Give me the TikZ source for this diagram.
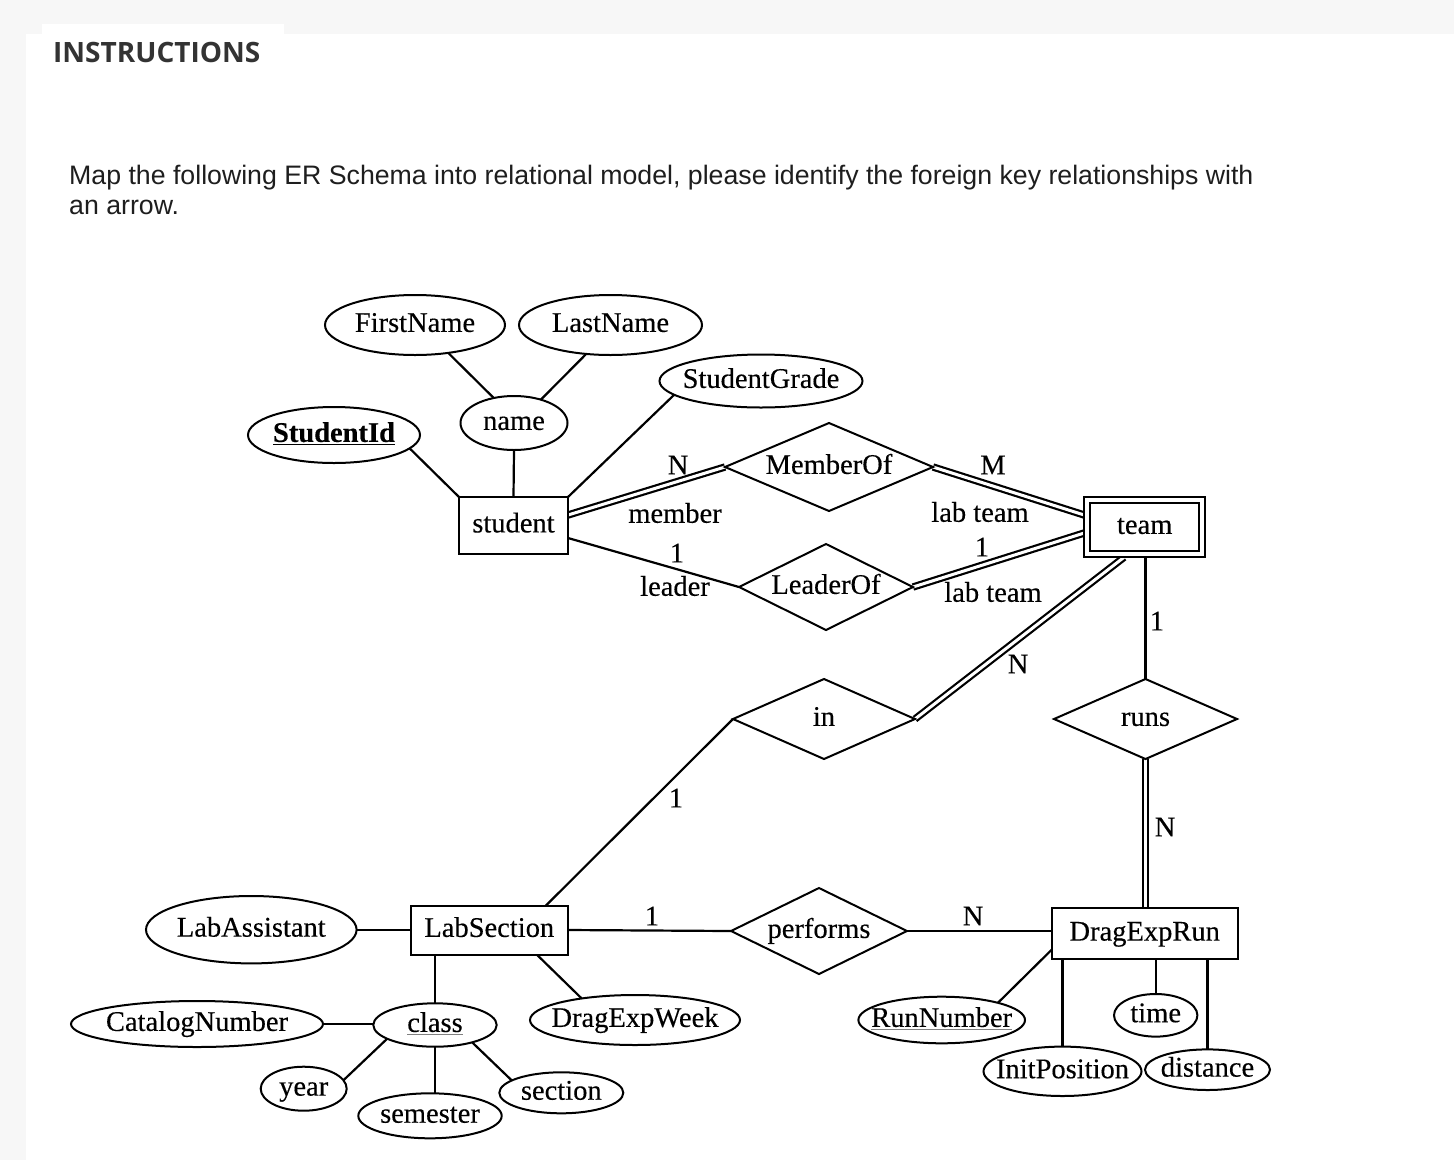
\documentclass[tikz,border=0pt]{standalone}
\usepackage{fontspec}
\setmainfont{Liberation Serif}[FakeBold=0.3]
\newfontfamily\instrfont{Open Sans}
\newfontfamily\bodyfont{Liberation Sans}
\usetikzlibrary{shapes.geometric,calc}
\definecolor{pagegray}{RGB}{247,247,247}
\definecolor{headcol}{RGB}{51,51,51}
\definecolor{bodycol}{RGB}{30,30,30}
\pgfdeclarelayer{bg}
\pgfdeclarelayer{lines}
\pgfsetlayers{bg,lines,main}
\newcommand{\myul}[2][black]{\leavevmode\setbox0=\hbox{#2}\rlap{\textcolor{#1}{\rule[-3.5pt]{\wd0}{1.8pt}}}\box0}
\begin{document}
\begin{tikzpicture}[x=1pt,y=-1pt,
  dfont/.style={font=\fontsize{28.5}{31}\selectfont},
  dbox/.style={dfont, text height=19.5pt, text depth=5.7pt},
  attr/.style={ellipse, draw, fill=white, line width=2pt, inner ysep=0pt, inner xsep=-20pt, outer sep=0pt, dbox},
  ent/.style={rectangle, draw, fill=white, line width=2pt, inner sep=0pt, outer sep=0pt, dbox},
  rel/.style={diamond, draw, fill=white, line width=2pt, inner sep=0pt, outer sep=0pt, aspect=2.2, dbox},
  conn/.style={line width=2.2pt},
  dconn/.style={line width=2.2pt, double=white, double distance=3pt},
  lbl/.style={inner sep=0pt, dfont}
]
\useasboundingbox (0,0) rectangle (1454,1160);
\begin{pgfonlayer}{bg}
  \fill[pagegray] (0,0) rectangle (1454,1160);
  \fill[white] (26,34) rectangle (1454,1160);
  \fill[white] (42,24) rectangle (284,34);
\end{pgfonlayer}

% header
\node[anchor=base west, inner sep=0pt, text=headcol, font=\instrfont\bfseries\fontsize{28}{30}\selectfont] (title) at (53,62.5) {INSTRUCTIONS};
\node[anchor=base west, inner sep=0pt, text=bodycol, font=\bodyfont\fontsize{26.7}{30}\selectfont] (line1) at (69,184.5) {Map the following ER Schema into relational model, please identify the foreign key relationships with};
\node[anchor=base west, inner sep=0pt, text=bodycol, font=\bodyfont\fontsize{26.7}{30}\selectfont] (line2) at (69,214.5) {an arrow.};

% attributes of student
\node[attr, minimum width=180pt, minimum height=60pt] (FirstName) at (415,325) {FirstName};
\node[attr, minimum width=183pt, minimum height=60pt] (LastName) at (610.5,325) {LastName};
\node[attr, minimum width=203pt, minimum height=53pt] (StudentGrade) at (761,381) {StudentGrade};
\node[attr, minimum width=107pt, minimum height=54pt] (name) at (514,423) {name};
\node[attr, minimum width=172pt, minimum height=56pt] (StudentId) at (334,435) {\myul{\bfseries StudentId}};

% entities
\node[ent, minimum width=109pt, minimum height=57pt] (student) at (513.5,525.5) {student};
\node[ent, minimum width=121pt, minimum height=60.6pt] (team) at (1144.7,527) {team};
\draw[line width=2pt] ([shift={(6pt,-6pt)}]team.north west) rectangle ([shift={(-6pt,6pt)}]team.south east);
\node[ent, minimum width=157pt, minimum height=49pt] (LabSection) at (489.3,930) {LabSection};
\node[ent, minimum width=186pt, minimum height=51pt] (DragExpRun) at (1144.7,933.7) {DragExpRun};

% relationships
\node[rel, minimum width=208pt, minimum height=88pt] (MemberOf) at (829,467) {MemberOf};
\node[rel, minimum width=174pt, minimum height=86pt] (LeaderOf) at (826,587) {LeaderOf};
\node[rel, minimum width=182pt, minimum height=80pt] (in) at (824,719) {in};
\node[rel, minimum width=183pt, minimum height=80pt] (runs) at (1145.5,719) {runs};
\node[rel, minimum width=176pt, minimum height=86pt] (performs) at (819,931) {performs};

% other attributes
\node[attr, minimum width=210.6pt, minimum height=67.4pt] (LabAssistant) at (251.3,929.7) {LabAssistant};
\node[attr, minimum width=252pt, minimum height=46pt] (CatalogNumber) at (197,1024) {CatalogNumber};
\node[attr, minimum width=123.4pt, minimum height=43.4pt] (class) at (435,1025) {\myul[gray]{class}};
\node[attr, minimum width=210pt, minimum height=50pt] (DragExpWeek) at (635,1020) {DragExpWeek};
\node[attr, minimum width=86pt, minimum height=44pt] (year) at (303.7,1088.7) {year};
\node[attr, minimum width=143.4pt, minimum height=45pt] (semester) at (430,1115.8) {semester};
\node[attr, minimum width=124pt, minimum height=41pt] (section) at (561.3,1092.8) {section};
\node[attr, minimum width=166.6pt, minimum height=46.6pt] (RunNumber) at (941.7,1020) {\myul[gray]{RunNumber}};
\node[attr, minimum width=83.4pt, minimum height=42.6pt] (time) at (1155.7,1015.3) {time};
\node[attr, minimum width=158pt, minimum height=49.4pt] (InitPosition) at (1062.5,1071.3) {InitPosition};
\node[attr, minimum width=125pt, minimum height=40.6pt] (distance) at (1207.5,1069.7) {distance};

% edge labels
\node[lbl] (lN1) at (678,465) {N};
\node[lbl] (lmember) at (675,513) {member};
\node[lbl] (lM) at (993,465) {M};
\node[lbl] (llabteamA) at (980,512) {lab team};
\node[lbl] (lone1) at (677,553) {1};
\node[lbl] (lleader) at (675,586) {leader};
\node[lbl] (lone2) at (982,547) {1};
\node[lbl] (llabteamB) at (993,592) {lab team};
\node[lbl] (lN2) at (1018,664) {N};
\node[lbl] (lone3) at (676,798) {1};
\node[lbl] (lone4) at (1157,621) {1};
\node[lbl] (lN3) at (1165,827) {N};
\node[lbl] (lone5) at (652,916) {1};
\node[lbl] (lN4) at (973,916) {N};

% connectors
\begin{pgfonlayer}{lines}
\draw[conn] (FirstName.-40.5) -- (name.129);
\draw[conn] (LastName.230) -- (name.41);
\draw[conn] (name.south) -- (student.north);
\draw[conn] (StudentId.-10) -- (student.north west);
\draw[conn] (StudentGrade.189) -- (student.north east);
\draw[dconn] ([yshift=10.5pt]student.east) -- (MemberOf.west);
\draw[dconn] (MemberOf.east) -- ([yshift=12pt]team.west);
\draw[conn] ([yshift=-12.5pt]student.east) -- (LeaderOf.west);
\draw[dconn] (LeaderOf.east) -- ([yshift=-6pt]team.west);
\draw[dconn] (in.east) -- ([xshift=-20.7pt]team.south);
\draw[conn] (in.west) -- ([xshift=56.7pt]LabSection.north);
\draw[conn] (team.south -| runs.north) -- (runs.north);
\draw[dconn] (runs.south) -- (runs.south |- DragExpRun.north);
\draw[conn] (LabSection.east) -- (performs.west);
\draw[conn] (performs.east) -- (performs.east -| DragExpRun.west);
\draw[conn] (LabAssistant.east) -- (LabAssistant.east -| LabSection.west);
\draw[conn] (LabSection.south -| class.north) -- (class.north);
\draw[conn] ([xshift=47.4pt]LabSection.south) -- (DragExpWeek.158);
\draw[conn] (CatalogNumber.east) -- (CatalogNumber.east -| class.west);
\draw[conn] (class.196.5) -- (year.12);
\draw[conn] (class.south) -- (class.south |- semester.north);
\draw[conn] (class.-25.5) -- (section.166);
\draw[conn] ([yshift=-16pt]DragExpRun.west) -- (RunNumber.17.6);
\draw[conn] (DragExpRun.south -| InitPosition.north) -- (InitPosition.north);
\draw[conn] (DragExpRun.south -| time.north) -- (time.north);
\draw[conn] (DragExpRun.south -| distance.north) -- (distance.north);
\end{pgfonlayer}
\end{tikzpicture}
\end{document}
